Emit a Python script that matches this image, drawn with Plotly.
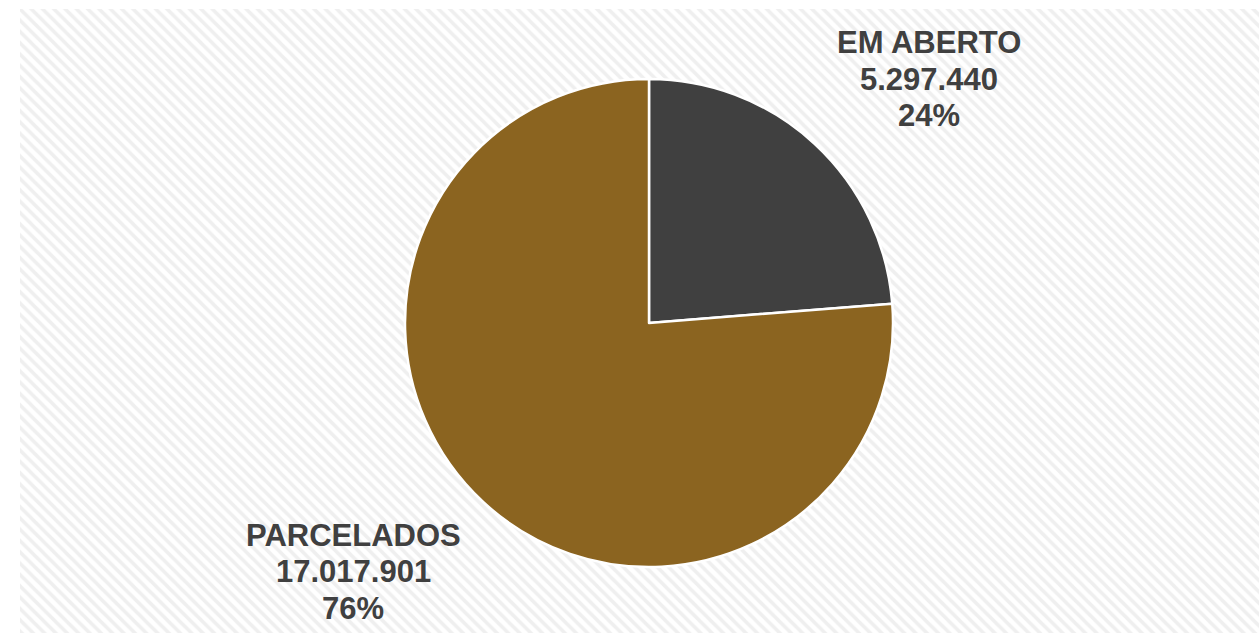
import plotly.graph_objects as go

labels = ["EM ABERTO", "PARCELADOS"]
values = [5297440, 17017901]
colors = ["#404040", "#8B6420"]

W, H = 1259, 633
total = sum(values)

def fmt(v):
    return f"{v:,}".replace(",", ".")

def px_x(x):
    return x / W

def px_y(y):
    return 1 - y / H

fig = go.Figure()

# hatched background panel
fig.add_trace(go.Scatter(
    x=[0, 1, 1, 0, 0], y=[0, 0, 1, 1, 0],
    mode="lines", line=dict(width=0), fill="toself",
    fillcolor="white",
    fillpattern=dict(shape="\\", size=8, solidity=0.45, fgcolor="#e0e0e0", bgcolor="#ffffff"),
    hoverinfo="skip", showlegend=False, xaxis="x", yaxis="y",
))

cx, cy, r = 649, 323, 244
fig.add_trace(go.Pie(
    labels=labels, values=values,
    marker=dict(colors=colors, line=dict(color="white", width=2.5)),
    sort=False, direction="clockwise", rotation=0,
    textinfo="none", hoverinfo="label+value+percent", showlegend=False,
    domain=dict(x=[px_x(cx - r), px_x(cx + r)], y=[px_y(cy + r), px_y(cy - r)]),
))

label_pos = [(929, [42, 79, 115]), (353, [535, 571, 608])]
annotations = []
for lab, v, (px, ys) in zip(labels, values, label_pos):
    pct = round(100 * v / total)
    for line, py in zip([lab, fmt(v), f"{pct}%"], ys):
        annotations.append(dict(
            text=line,
            x=px_x(px), y=px_y(py), xref="paper", yref="paper",
            xanchor="center", yanchor="middle", showarrow=False, align="center",
            font=dict(family="Liberation Sans, Arial, sans-serif", size=31, color="#404040", weight="bold"),
        ))

fig.update_layout(
    width=W, height=H,
    margin=dict(l=0, r=0, t=0, b=0),
    paper_bgcolor="white", plot_bgcolor="white",
    xaxis=dict(domain=[px_x(20), 1], range=[0, 1], visible=False, fixedrange=True),
    yaxis=dict(domain=[0, px_y(9)], range=[0, 1], visible=False, fixedrange=True),
    annotations=annotations,
)

fig.write_html(
    "out.html",
    config={"displayModeBar": False},
    post_script="document.body.style.margin='0px'; document.body.style.overflow='hidden';",
)
